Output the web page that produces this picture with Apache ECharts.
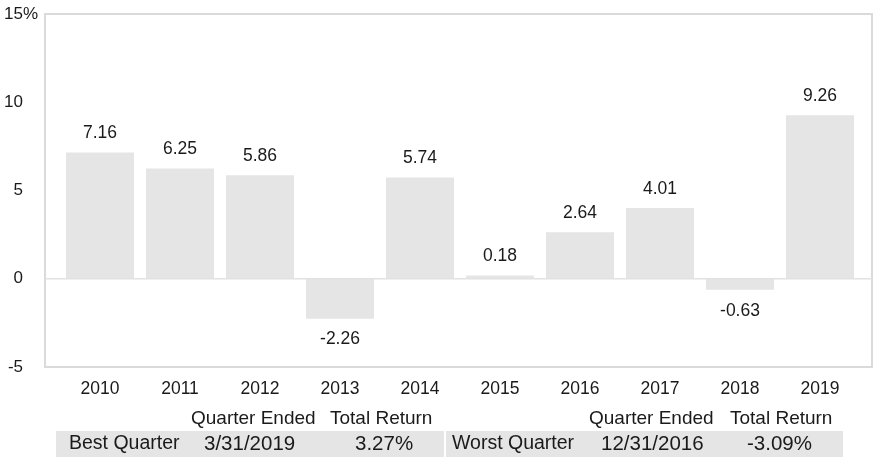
<!DOCTYPE html>
<html>
<head>
<meta charset="utf-8">
<script src="https://cdn.jsdelivr.net/npm/echarts@6/dist/echarts.min.js"></script>
<style>
  html, body { margin: 0; padding: 0; background: #fff; }
  #chart { width: 881px; height: 460px; }
</style>
</head>
<body>
<div id="chart"></div>
<script>
const years = ['2010', '2011', '2012', '2013', '2014', '2015', '2016', '2017', '2018', '2019']
const returns = [7.16, 6.25, 5.86, -2.26, 5.74, 0.18, 2.64, 4.01, -0.63, 9.26]
const yTicks = [-5, 0, 5, 10, 15]
const tableHeader = ['Quarter Ended', 'Total Return']
const bestQuarter = ['Best Quarter', '3/31/2019', '3.27%']
const worstQuarter = ['Worst Quarter', '12/31/2016', '-3.09%']

const font = 'Liberation Sans, Arial, sans-serif'
const textColor = '#1a1a1a'

let chart = echarts.init(document.getElementById('chart'))

chart.setOption({
  animation: false,
  grid: { left: 60, right: 21, top: 14, bottom: 93, show: false },
  xAxis: {
    type: 'category',
    data: years,
    axisLine: { show: false },
    axisTick: { show: false },
    axisLabel: { color: textColor, fontSize: 17.5, fontFamily: font, margin: 13 },
  },
  yAxis: {
    type: 'value',
    min: yTicks[0],
    max: yTicks[yTicks.length - 1],
    interval: 5,
    splitLine: { show: false },
    axisLine: { show: false },
    axisTick: { show: false },
    axisLabel: { color: textColor, fontSize: 17, fontFamily: font, margin: 37 },
  },
  series: [
    {
      type: 'bar',
      barCategoryGap: '15%',
      itemStyle: { color: '#e5e5e5' },
      data: returns.map((v) => ({
        value: v,
        label: {
          show: true,
          position: v >= 0 ? 'top' : 'bottom',
          distance: v >= 0 ? 10 : 12,
          color: textColor,
          fontSize: 17.5,
          fontFamily: font,
          formatter: (p) => p.value.toFixed(2),
        },
      })),
    },
  ],
})

// frame, zero line and the quarter table
const yTop = chart.convertToPixel({ yAxisIndex: 0 }, yTicks[yTicks.length - 1])
const yBottom = chart.convertToPixel({ yAxisIndex: 0 }, yTicks[0])
const yZero = chart.convertToPixel({ yAxisIndex: 0 }, 0)
const frameLeft = 45
const frameRight = 872

const txt = (x, y, s, size) => ({
  type: 'text',
  x: x,
  y: y,
  style: { text: s, fill: textColor, font: size + 'px ' + font, textVerticalAlign: 'middle' },
})

let graphics = [
  {
    type: 'rect',
    shape: { x: frameLeft, y: yTop, width: frameRight - frameLeft, height: yBottom - yTop },
    style: { fill: 'none', stroke: '#dadada', lineWidth: 2 },
    z: 10,
  },
  {
    type: 'line',
    shape: { x1: frameLeft, y1: yZero, x2: frameRight, y2: yZero },
    style: { stroke: '#e2e2e2', lineWidth: 1.5 },
    z: 10,
  },
  txt(23, yTop, '%', 17),
  { type: 'rect', shape: { x: 56, y: 431, width: 388, height: 26 }, style: { fill: '#e5e5e5' } },
  { type: 'rect', shape: { x: 446, y: 431, width: 397, height: 26 }, style: { fill: '#e5e5e5' } },
]

const headerX = [[191, 330], [589, 730]]
headerX.forEach((cols) => {
  cols.forEach((x, i) => graphics.push(txt(x, 419, tableHeader[i], 19)))
})
const bestX = [69, 204, 355]
const worstX = [452, 601, 747]
bestQuarter.forEach((s, i) => graphics.push(txt(bestX[i], 444, s, i === 0 ? 19.5 : 20.5)))
worstQuarter.forEach((s, i) => graphics.push(txt(worstX[i], 444, s, i === 0 ? 19.5 : 20.5)))

chart.setOption({ graphic: graphics })
</script>
</body>
</html>
